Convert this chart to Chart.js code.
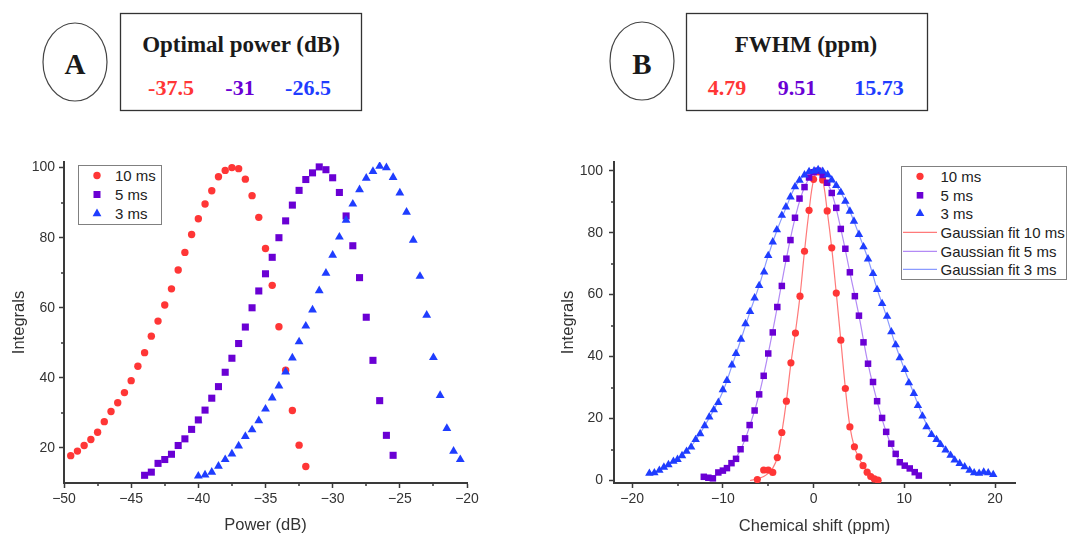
<!DOCTYPE html>
<html>
<head>
<meta charset="utf-8">
<script src="https://cdn.jsdelivr.net/npm/chart.js@4.4.1/dist/chart.umd.min.js"></script>
<style>
  html, body { margin: 0; padding: 0; background: #fff; }
  #page { position: relative; width: 1067px; height: 536px; overflow: hidden; font-family: Arial, "Liberation Sans", sans-serif; }
  #head { position: absolute; left: 0; top: 0; }
  #head .big { font: bold 29px "Liberation Serif", "Times New Roman", serif; text-anchor: middle; fill: #1a1a1a; }
  #head .ttl { font: bold 23px "Liberation Serif", "Times New Roman", serif; text-anchor: middle; fill: #1a1a1a; }
  #head .val { font: bold 22px "Liberation Serif", "Times New Roman", serif; text-anchor: middle; }
  canvas { position: absolute; }
  #chartA { left: 0; top: 140px; }
  #chartB { left: 540px; top: 140px; }
  .legend { position: absolute; background: #fff; border: 1.5px solid #808080; font-size: 15px; color: #222; box-sizing: border-box; }
  .legend .row { display: flex; align-items: center; white-space: nowrap; }
  .legend svg { flex: none; }
  #legA { left: 78px; top: 165px; width: 84px; height: 60px; }
  #legA .row { height: 19px; }
  #legA svg { margin-left: 2.5px; margin-right: 3.5px; }
  #legB { left: 901px; top: 166px; width: 166px; height: 114px; }
  #legB .row { height: 18.7px; }
  #legB svg { margin-left: 0.5px; margin-right: 4px; }
</style>
</head>
<body>
<div id="page">
  <svg id="head" width="1067" height="130">
    <ellipse cx="75" cy="62" rx="32" ry="39" fill="none" stroke="#444" stroke-width="1.2"/>
    <text x="75" y="74" class="big">A</text>
    <rect x="120.5" y="13.5" width="241" height="97" fill="none" stroke="#333" stroke-width="1.3"/>
    <text x="241" y="52" class="ttl">Optimal power (dB)</text>
    <text x="171" y="95" class="val" fill="#ff3636">-37.5</text>
    <text x="240" y="95" class="val" fill="#6a00d4">-31</text>
    <text x="308" y="95" class="val" fill="#1f3dff">-26.5</text>

    <ellipse cx="642" cy="61" rx="32" ry="39" fill="none" stroke="#444" stroke-width="1.2"/>
    <text x="642" y="74" class="big">B</text>
    <rect x="686.5" y="13.5" width="241" height="97" fill="none" stroke="#333" stroke-width="1.3"/>
    <text x="806" y="52" class="ttl">FWHM (ppm)</text>
    <text x="727" y="95" class="val" fill="#ff3636">4.79</text>
    <text x="797" y="95" class="val" fill="#6a00d4">9.51</text>
    <text x="879" y="95" class="val" fill="#1f3dff">15.73</text>
  </svg>

  <canvas id="chartA" width="490" height="396"></canvas>
  <canvas id="chartB" width="527" height="396"></canvas>

  <div class="legend" id="legA">
    <div class="row"><svg width="30" height="19"><circle cx="15" cy="9.5" r="3.7" fill="#ff3636"/></svg>10 ms</div>
    <div class="row"><svg width="30" height="19"><rect x="11.5" y="6" width="7" height="7" fill="#6a00d4"/></svg>5 ms</div>
    <div class="row"><svg width="30" height="19"><polygon points="15,4.5 19.4,12.2 10.6,12.2" fill="#1f3dff"/></svg>3 ms</div>
  </div>

  <div class="legend" id="legB">
    <div class="row"><svg width="34" height="18.7"><circle cx="17" cy="9.3" r="3.6" fill="#ff3636"/></svg>10 ms</div>
    <div class="row"><svg width="34" height="18.7"><rect x="13.7" y="6" width="6.6" height="6.6" fill="#6a00d4"/></svg>5 ms</div>
    <div class="row"><svg width="34" height="18.7"><polygon points="17,4.4 21.3,11.9 12.7,11.9" fill="#1f3dff"/></svg>3 ms</div>
    <div class="row"><svg width="34" height="18.7"><line x1="0" y1="9.3" x2="34" y2="9.3" stroke="#ff7a7a" stroke-width="1.2"/></svg>Gaussian fit 10 ms</div>
    <div class="row"><svg width="34" height="18.7"><line x1="0" y1="9.3" x2="34" y2="9.3" stroke="#b38af5" stroke-width="1.2"/></svg>Gaussian fit 5 ms</div>
    <div class="row"><svg width="34" height="18.7"><line x1="0" y1="9.3" x2="34" y2="9.3" stroke="#8a9aff" stroke-width="1.2"/></svg>Gaussian fit 3 ms</div>
  </div>
</div>

<script>
const RED = '#ff3636';
const PURPLE = '#6a00d4';
const BLUE = '#1f3dff';
const AXIS = '#3a3a3a';

// Panel A: power sweep (dB) vs integrals
const xTicksA = [-50, -45, -40, -35, -30, -25, -20];
const xMinorA = [-47.5, -42.5, -37.5, -32.5, -27.5, -22.5];
const yTicksA = [20, 40, 60, 80, 100];
const yMinorA = [30, 50, 70, 90];

const powerA10 = [-49.5, -49, -48.5, -48, -47.5, -47, -46.5, -46, -45.5, -45, -44.5, -44, -43.5, -43, -42.5, -42, -41.5, -41, -40.5, -40, -39.5, -39, -38.5, -38, -37.5, -37, -36.5, -36, -35.5, -35, -34.5, -34, -33.5, -33, -32.5, -32];
const intA10 = [17.8, 19.1, 20.7, 22.4, 24.5, 27.5, 30.4, 32.9, 35.8, 39.2, 43.3, 47.2, 51.9, 56.2, 60.8, 65.4, 70.8, 75.8, 80.9, 85.4, 89.6, 93.4, 97.4, 99.2, 100, 99.7, 96.7, 92.0, 85.8, 76.9, 66.4, 54.6, 42.2, 30.7, 20.8, 14.7];

const powerA5 = [-44, -43.5, -43, -42.5, -42, -41.5, -41, -40.5, -40, -39.5, -39, -38.5, -38, -37.5, -37, -36.5, -36, -35.5, -35, -34.5, -34, -33.5, -33, -32.5, -32, -31.5, -31, -30.5, -30, -29.5, -29, -28.5, -28, -27.5, -27, -26.5, -26, -25.5];
const intA5 = [12.2, 13.1, 15.6, 16.7, 18.2, 20.7, 22.6, 25.3, 28.0, 30.8, 34.2, 37.5, 41.6, 45.6, 49.8, 54.5, 60.0, 64.8, 69.7, 74.4, 80.0, 84.8, 89.3, 93.5, 96.6, 98.5, 100.2, 99.4, 97.1, 92.9, 86.2, 77.7, 68.6, 57.3, 45.0, 33.5, 23.6, 17.9];

const powerA3 = [-40, -39.5, -39, -38.5, -38, -37.5, -37, -36.5, -36, -35.5, -35, -34.5, -34, -33.5, -33, -32.5, -32, -31.5, -31, -30.5, -30, -29.5, -29, -28.5, -28, -27.5, -27, -26.5, -26, -25.5, -25, -24.5, -24, -23.5, -23, -22.5, -22, -21.5, -21, -20.5];
const intA3 = [12.0, 12.3, 13.1, 14.8, 16.7, 18.3, 20.6, 23.3, 25.2, 27.8, 31.1, 34.3, 37.7, 41.7, 45.7, 50.3, 54.8, 59.4, 64.9, 69.9, 75.0, 80.2, 85.0, 89.6, 93.7, 97.0, 98.9, 100.4, 100, 97.2, 92.8, 87.3, 79.3, 69.0, 57.9, 45.8, 35.0, 25.6, 19.1, 16.7];

// Panel B: chemical shift (ppm) vs integrals
const xTicksB = [-20, -10, 0, 10, 20];
const xMinorB = [-15, -5, 5, 15];
const yTicksB = [0, 20, 40, 60, 80, 100];
const yMinorB = [10, 30, 50, 70, 90];

const shiftB10 = [-6.2, -5.5, -5.0, -4.5, -4.0, -3.5, -3.0, -2.5, -2.0, -1.5, -1.0, -0.5, 0.0, 0.5, 1.0, 1.5, 2.0, 2.5, 3.0, 3.5, 4.0, 4.5, 5.0, 5.45, 5.9, 6.3, 6.7, 7.1];
const intB10 = [0.3, 3.4, 3.4, 2.6, 7.4, 15.5, 25.6, 38.0, 47.6, 59.5, 74.0, 87.2, 97.2, 99.6, 97.0, 87.0, 75.1, 60.5, 45.3, 29.7, 17.3, 10.9, 7.6, 4.8, 2.7, 1.3, 0.5, 0.1];

const shiftB5 = [-12.1, -11.6, -11.1, -10.5, -10.0, -9.55, -9.05, -8.55, -8.05, -7.55, -7.05, -6.5, -6.0, -5.5, -5.0, -4.5, -4.0, -3.5, -3.0, -2.55, -2.05, -1.55, -1.0, -0.5, 0.0, 0.5, 1.0, 1.5, 2.0, 2.5, 3.0, 3.5, 4.0, 4.55, 5.0, 5.5, 6.0, 6.55, 7.0, 7.55, 8.0, 8.55, 9.05, 9.5, 10.05, 10.6, 11.15, 11.6];
const intB5 = [1.2, 0.9, 0.7, 2.6, 3.2, 4.0, 5.6, 7.0, 10.1, 13.6, 17.9, 22.6, 27.8, 33.8, 41.0, 47.8, 56.0, 62.8, 71.6, 77.6, 84.8, 91.0, 94.7, 97.8, 99.5, 100, 98.6, 96.1, 92.8, 88.0, 81.2, 74.8, 67.2, 59.5, 53.2, 44.6, 37.7, 31.8, 25.6, 20.2, 15.7, 11.9, 8.6, 5.9, 4.8, 3.9, 2.7, 1.6];

const shiftB3 = [-18.1, -17.55, -17.0, -16.5, -16.0, -15.45, -15.0, -14.5, -14.0, -13.5, -13.0, -12.5, -12.0, -11.5, -11.0, -10.5, -10.0, -9.55, -9.0, -8.55, -8.0, -7.5, -7.0, -6.5, -6.0, -5.45, -5.0, -4.5, -4.05, -3.5, -3.05, -2.55, -2.05, -1.55, -1.0, -0.5, 0.05, 0.5, 1.0, 1.55, 2.0, 2.5, 3.0, 3.5, 4.0, 4.45, 5.0, 5.5, 6.0, 6.55, 7.0, 7.55, 8.1, 8.57, 9.05, 9.5, 10.05, 10.5, 11.05, 11.5, 12.0, 12.45, 13.0, 13.55, 14.0, 14.55, 15.1, 15.55, 16.1, 16.65, 17.2, 17.7, 18.25, 18.75, 19.25, 19.8];
const intB3 = [2.3, 2.5, 3.3, 4.3, 5.1, 6.2, 6.8, 8.0, 9.4, 10.8, 13.2, 15.1, 17.7, 20.5, 22.8, 25.2, 29.3, 32.3, 37.3, 41.0, 45.6, 50.6, 54.5, 58.9, 62.9, 67.3, 72.6, 77.0, 80.9, 85.6, 88.3, 91.5, 94.8, 96.9, 98.6, 99.7, 99.9, 100.3, 99.8, 98.7, 97.0, 95.2, 93.0, 90.1, 86.9, 83.7, 79.4, 75.4, 71.5, 66.8, 61.6, 57.1, 53.0, 48.0, 43.8, 39.6, 35.8, 31.5, 28.1, 24.2, 20.8, 17.3, 14.8, 13.2, 11.6, 9.8, 8.1, 6.6, 5.5, 4.4, 3.3, 2.5, 2.3, 2.7, 2.5, 1.9];

// Gaussian fit curves
const fitX10 = [-7, -6.5, -6, -5.5, -5, -4.5, -4, -3.5, -3, -2.5, -2, -1.5, -1, -0.5, 0, 0.5, 1, 1.5, 2, 2.5, 3, 3.5, 4, 4.5, 5, 5.5, 6, 6.5, 7, 7.5];
const fitY10 = [0, 0.3, 0.7, 1.3, 2.3, 4.0, 7.4, 15.5, 25.6, 37.8, 48.0, 59.5, 74.0, 87.0, 97.0, 100, 97.0, 87.0, 75.0, 60.5, 45.3, 29.9, 17.5, 10.8, 7.3, 4.6, 2.6, 1.3, 0.5, 0];
const fitX5 = [-12, -11, -10, -9, -8, -7, -6, -5, -4, -3, -2, -1, 0, 0.5, 1, 2, 3, 4, 5, 6, 7, 8, 9, 10, 11, 11.6];
const fitY5 = [0.9, 1.5, 3.0, 5.6, 10.2, 17.9, 27.8, 41.0, 56.0, 71.6, 85.2, 94.7, 99.5, 100, 98.6, 92.8, 81.2, 67.2, 53.2, 37.7, 25.6, 15.7, 8.6, 4.8, 2.7, 1.6];
const fitX3 = [-18, -17, -16, -15, -14, -13, -12, -11, -10, -9, -8, -7, -6, -5, -4, -3, -2, -1, 0, 0.5, 1, 2, 3, 4, 5, 6, 7, 8, 9, 10, 11, 12, 13, 14, 15, 16, 17, 18, 19, 20];
const fitY3 = [2.4, 3.3, 5.0, 6.9, 9.4, 13.0, 17.7, 22.8, 28.7, 37.0, 45.6, 54.5, 62.9, 72.6, 81.0, 88.3, 95.0, 98.6, 99.9, 100.2, 99.8, 97.0, 93.0, 86.9, 79.4, 71.5, 61.8, 53.3, 44.0, 36.0, 28.4, 21.0, 15.0, 11.6, 8.3, 5.6, 3.7, 2.6, 2.2, 1.7];

Chart.defaults.font.family = 'Arial, "Liberation Sans", sans-serif';
Chart.defaults.color = '#333';

function pts(xs, ys) {
  return xs.map((x, i) => ({ x, y: ys[i] }));
}

// short minor ticks between the labelled ones
const minorTicks = {
  id: 'minorTicks',
  afterDraw(chart, args, opts) {
    const { ctx, scales: { x, y } } = chart;
    ctx.save();
    ctx.strokeStyle = AXIS;
    ctx.lineWidth = 1.5;
    ctx.beginPath();
    (opts.x || []).forEach((v) => {
      const p = Math.round(x.getPixelForValue(v));
      ctx.moveTo(p, x.top);
      ctx.lineTo(p, x.top + 3);
    });
    (opts.y || []).forEach((v) => {
      const p = Math.round(y.getPixelForValue(v));
      ctx.moveTo(y.right, p);
      ctx.lineTo(y.right - 3, p);
    });
    ctx.stroke();
    ctx.restore();
  },
};

function axis(o) {
  return {
    type: 'linear',
    min: o.min,
    max: o.max,
    afterBuildTicks: (s) => {
      s.ticks = o.ticks.map((v) => ({ value: v }));
    },
    afterFit: (s) => {
      if (s.isHorizontal()) s.height = o.size;
      else s.width = o.size;
    },
    grid: { drawOnChartArea: false, drawTicks: true, tickLength: 5, tickColor: AXIS, tickWidth: 1.5 },
    border: { display: true, color: AXIS, width: 2 },
    ticks: {
      font: { size: 14 },
      color: '#333',
      padding: o.pad,
      maxRotation: 0,
      autoSkip: false,
      callback: (v) => String(v).replace('-', '\u2212'),
    },
    title: { display: true, text: o.title, font: { size: 16.5 }, color: '#333', padding: o.titlePad },
  };
}

function scatter(label, data, color, style, radius, order) {
  return {
    label,
    data,
    showLine: false,
    pointStyle: style,
    pointRadius: radius,
    pointHoverRadius: radius,
    pointBackgroundColor: color,
    pointBorderColor: color,
    pointBorderWidth: 0,
    order,
  };
}

function fitLine(label, data, color, order) {
  return {
    label,
    data,
    showLine: true,
    borderColor: color,
    borderWidth: 1.2,
    pointRadius: 0,
    tension: 0.4,
    fill: false,
    order,
  };
}

const common = {
  responsive: false,
  animation: false,
  devicePixelRatio: 1,
  events: [],
};

new Chart(document.getElementById('chartA'), {
  type: 'scatter',
  data: {
    datasets: [
      scatter('10 ms', pts(powerA10, intA10), RED, 'circle', 3.7, 3),
      scatter('5 ms', pts(powerA5, intA5), PURPLE, 'rect', 5.0, 2),
      scatter('3 ms', pts(powerA3, intA3), BLUE, 'triangle', 5.1, 1),
    ],
  },
  options: {
    ...common,
    layout: { padding: { top: 22, right: 23, left: 0, bottom: 0 } },
    plugins: {
      legend: { display: false },
      tooltip: { enabled: false },
      minorTicks: { x: xMinorA, y: yMinorA },
    },
    scales: {
      x: axis({ min: -50, max: -20, ticks: xTicksA, size: 53, pad: 3, title: 'Power (dB)', titlePad: { bottom: 1 } }),
      y: axis({ min: 10, max: 101.6, ticks: yTicksA, size: 64, pad: 4, title: 'Integrals', titlePad: { top: 10 } }),
    },
  },
  plugins: [minorTicks],
});

new Chart(document.getElementById('chartB'), {
  type: 'scatter',
  data: {
    datasets: [
      scatter('10 ms', pts(shiftB10, intB10), RED, 'circle', 3.6, 3),
      scatter('5 ms', pts(shiftB5, intB5), PURPLE, 'rect', 4.6, 2),
      scatter('3 ms', pts(shiftB3, intB3), BLUE, 'triangle', 4.9, 1),
      fitLine('Gaussian fit 10 ms', pts(fitX10, fitY10), '#ff7a7a', 4),
      fitLine('Gaussian fit 5 ms', pts(fitX5, fitY5), '#b38af5', 5),
      fitLine('Gaussian fit 3 ms', pts(fitX3, fitY3), '#8a9aff', 6),
    ],
  },
  options: {
    ...common,
    layout: { padding: { top: 22, right: 52, left: 0, bottom: 0 } },
    plugins: {
      legend: { display: false },
      tooltip: { enabled: false },
      minorTicks: { x: xMinorB, y: yMinorB },
    },
    scales: {
      x: axis({ min: -22, max: 22.2, ticks: xTicksB, size: 53, pad: 3, title: 'Chemical shift (ppm)', titlePad: { bottom: 0 } }),
      y: axis({ min: -0.8, max: 102.8, ticks: yTicksB, size: 74, pad: 6, title: 'Integrals', titlePad: { top: 19 } }),
    },
  },
  plugins: [minorTicks],
});
</script>
</body>
</html>
